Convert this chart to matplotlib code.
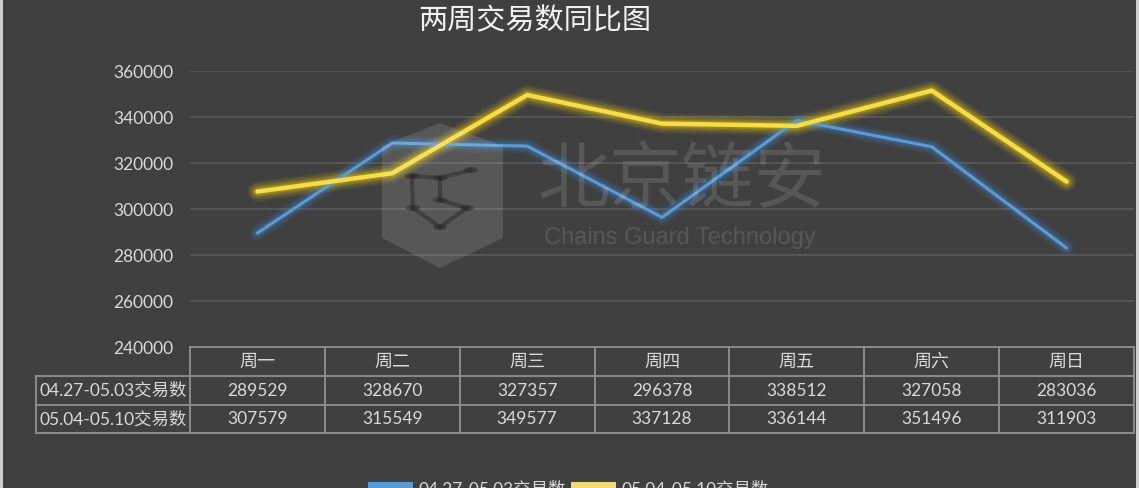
import matplotlib
matplotlib.use('Agg')
import matplotlib.pyplot as plt
import matplotlib.transforms as mtransforms
from matplotlib.patches import Polygon, Rectangle, Patch, Circle

plt.rcParams['font.family'] = ['Lato', 'Noto Sans CJK SC', 'DejaVu Sans']

# ---- data -------------------------------------------------------------
title = '两周交易数同比图'
categories = ['周一', '周二', '周三', '周四', '周五', '周六', '周日']
series_names = ['04.27-05.03交易数', '05.04-05.10交易数']
week_a = [289529, 328670, 327357, 296378, 338512, 327058, 283036]
week_b = [307579, 315549, 349577, 337128, 336144, 351496, 311903]
y_ticks = [240000, 260000, 280000, 300000, 320000, 340000, 360000]

# ---- style ------------------------------------------------------------
W, H = 1139, 488
BG = '#404040'
TXT = '#d9d9d9'
GRID = '#5a5a5a'
TABLE_LINE = '#8c8c8c'
BLUE, BLUE_GLOW = '#5b9bd5', '#3f7fc0'
YELLOW, YELLOW_GLOW = '#f7dc45', '#c2aa1c'
CJK = ['Noto Sans CJK SC', 'DejaVu Sans']


def fx(px):
    return px / W


def fy(py):
    return 1 - py / H


fig = plt.figure(figsize=(W / 100, H / 100), dpi=100, facecolor=BG)

# plot area: 240000 at y=347px, 360000 at y=71px
top_px, bot_px, left_px, right_px = 71, 347, 190, 1134
ax = fig.add_axes([fx(left_px), fy(bot_px), fx(right_px) - fx(left_px),
                   fy(top_px) - fy(bot_px)])
ax.set_facecolor(BG)
n = len(categories)
ax.set_xlim(-0.5, n - 0.5)
ax.set_ylim(y_ticks[0], y_ticks[-1])
ax.set_yticks(y_ticks)
ax.set_yticklabels([str(v) for v in y_ticks])
ax.tick_params(axis='y', length=0, pad=12, labelsize=12.5, labelcolor=TXT)
ax.set_xticks([])
for s in ax.spines.values():
    s.set_visible(False)
for v in y_ticks[1:]:
    ax.axhline(v, color=GRID, lw=1.2, zorder=1)

xs = list(range(n))


def glow_line(vals, color, glow, lw, layers):
    for extra, a in layers:
        ax.plot(xs, vals, color=glow, lw=lw + extra, alpha=a,
                solid_joinstyle='round', solid_capstyle='round', zorder=3)
    ax.plot(xs, vals, color=color, lw=lw, solid_joinstyle='round',
            solid_capstyle='round', zorder=4)


glow_line(week_a, BLUE, BLUE_GLOW, 2.2, [(9, 0.10), (6, 0.16), (3, 0.28)])
glow_line(week_b, YELLOW, YELLOW_GLOW, 3.2,
          [(11, 0.12), (8, 0.18), (5, 0.26), (2.5, 0.4)])

# ---- data table under the plot ----------------------------------------
trans = mtransforms.blended_transform_factory(ax.transData, ax.transAxes)
span = bot_px - top_px


def ya(py):
    return (bot_px - py) / span


col_w = (right_px - left_px) / n
label_left = (36 - left_px) / col_w - 0.5
rows_px = [347, 376, 405, 433]
line_kw = dict(color=TABLE_LINE, lw=1.4, transform=trans, clip_on=False,
               zorder=5, solid_capstyle='projecting')

ax.plot([-0.5, n - 0.5], [ya(rows_px[0])] * 2, **line_kw)
for py in rows_px[1:]:
    ax.plot([label_left, n - 0.5], [ya(py)] * 2, **line_kw)
for i in range(n + 1):
    ax.plot([i - 0.5] * 2, [ya(rows_px[0]), ya(rows_px[-1])], **line_kw)
ax.plot([label_left] * 2, [ya(rows_px[1]), ya(rows_px[-1])], **line_kw)

row_mid = [ya((rows_px[k] + rows_px[k + 1]) / 2) for k in range(3)]
for i, c in enumerate(categories):
    ax.text(i, row_mid[0], c, transform=trans, ha='center', va='center',
            fontsize=13, color=TXT, family=CJK, clip_on=False)
for r, (name, vals) in enumerate(zip(series_names, [week_a, week_b])):
    ax.text((label_left - 0.5) / 2, row_mid[r + 1], name, transform=trans,
            ha='center', va='center', fontsize=12.5, color=TXT, clip_on=False)
    for i, v in enumerate(vals):
        ax.text(i, row_mid[r + 1], str(v), transform=trans, ha='center',
                va='center', fontsize=12.5, color=TXT, clip_on=False)

# ---- title ------------------------------------------------------------
fig.text(fx(535), fy(21), title, ha='center', va='center', fontsize=21,
         color='#f2f2f2', family=CJK)

# ---- legend -----------------------------------------------------------
handles = [Patch(facecolor=BLUE, edgecolor='none'),
           Patch(facecolor='#f5d77a', edgecolor='none')]
fig.legend(handles, series_names, loc='center', ncol=2, frameon=False,
           bbox_to_anchor=(fx(568), fy(489)), fontsize=12.5, labelcolor=TXT,
           handlelength=2.6, handleheight=0.7, handletextpad=0.3,
           columnspacing=0.3)

# ---- watermark --------------------------------------------------------
shield = [(440, 123), (503, 146), (503, 238), (440, 268), (382, 238),
          (382, 146)]
fig.patches.append(Polygon([(fx(x), fy(y)) for x, y in shield], closed=True,
                           transform=fig.transFigure, facecolor='white',
                           alpha=0.12, edgecolor='none', zorder=10))
nodes = [(471, 170), (440, 178), (412, 176), (440, 200), (413, 208),
         (467, 208), (440, 227)]
edges = [(0, 1), (1, 3), (3, 5), (2, 4), (4, 6), (6, 5), (2, 1)]
for a, b in edges:
    (x1, y1), (x2, y2) = nodes[a], nodes[b]
    fig.lines.append(plt.Line2D([fx(x1), fx(x2)], [fy(y1), fy(y2)],
                                transform=fig.transFigure, color='#2a2a2a',
                                alpha=0.5, lw=3, zorder=11))
for x, y in nodes:
    fig.patches.append(Circle((fx(x), fy(y)), 7 / W, transform=fig.transFigure,
                              facecolor='#2a2a2a', alpha=0.5,
                              edgecolor='none', zorder=11))
fig.text(fx(682), fy(181), '北京链安', ha='center', va='center', fontsize=52,
         color='white', alpha=0.12, family=CJK, zorder=10)
fig.text(fx(680), fy(238), 'Chains Guard Technology', ha='center',
         va='center', fontsize=17, color='white', alpha=0.12,
         family=['Liberation Sans', 'DejaVu Sans'], zorder=10)

# ---- light frame edges ------------------------------------------------
for x0 in (0, W - 3):
    fig.patches.append(Rectangle((fx(x0), 0), 3 / W, 1,
                                 transform=fig.transFigure,
                                 facecolor='#cfcfcf', edgecolor='none',
                                 zorder=12))

fig.savefig('out.png', dpi=100, facecolor=BG)
